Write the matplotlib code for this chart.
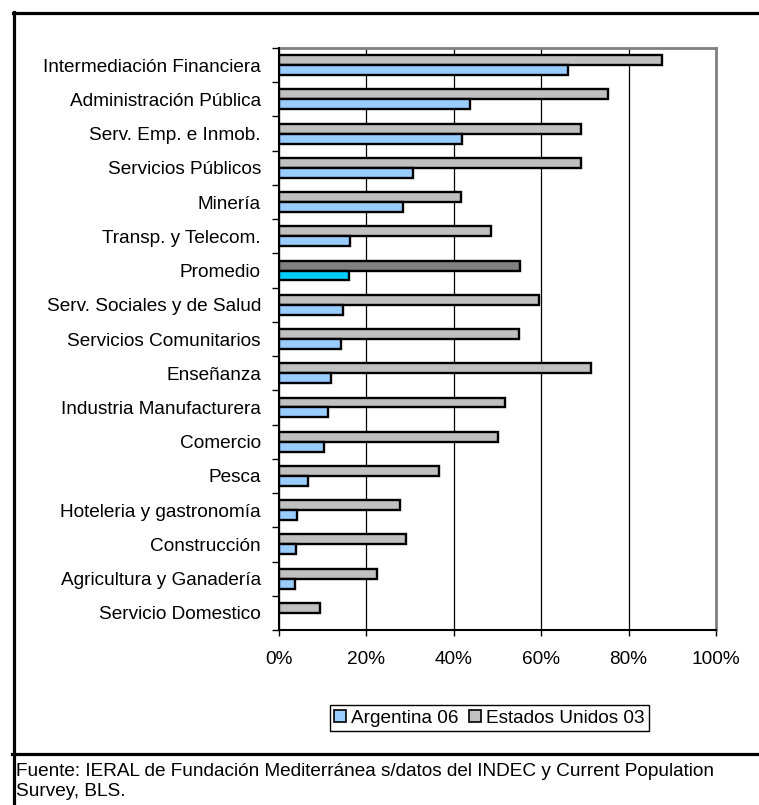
import matplotlib
matplotlib.use('Agg')
import matplotlib.pyplot as plt
from matplotlib.patches import Patch
from matplotlib.lines import Line2D
from matplotlib.ticker import FixedLocator, FuncFormatter

plt.rcParams['font.family'] = ['Liberation Sans', 'DejaVu Sans']

categorias = ["Intermediación Financiera", "Administración Pública", "Serv. Emp. e Inmob.",
              "Servicios Públicos", "Minería", "Transp. y Telecom.", "Promedio",
              "Serv. Sociales y de Salud", "Servicios Comunitarios", "Enseñanza",
              "Industria Manufacturera", "Comercio", "Pesca", "Hoteleria y gastronomía",
              "Construcción", "Agricultura y Ganadería", "Servicio Domestico"]
argentina_06 = [66.2, 43.7, 41.9, 30.6, 28.4, 16.3, 16.1, 14.7, 14.3, 11.9, 11.2, 10.4, 6.6, 4.1, 3.8, 3.6, 0.0]
eeuu_03 = [87.7, 75.2, 69.1, 69.0, 41.7, 48.6, 55.1, 59.4, 54.9, 71.4, 51.7, 50.0, 36.6, 27.6, 29.0, 22.4, 9.4]
destacado = "Promedio"

W, H = 759, 805
fs = 13.7
fig = plt.figure(figsize=(W / 100, H / 100), dpi=100)
ax = fig.add_axes([279 / W, 1 - 630 / H, 437 / W, 582 / H])

h = 0.29
for i, cat in enumerate(categorias):
    c_arg = '#00CCFF' if cat == destacado else '#99CCFF'
    c_us = '#808080' if cat == destacado else '#C0C0C0'
    ax.barh(i - h / 2, eeuu_03[i], height=h, color=c_us, edgecolor='black', linewidth=1.7, zorder=3)
    if argentina_06[i] > 0:
        ax.barh(i + h / 2, argentina_06[i], height=h, color=c_arg, edgecolor='black', linewidth=1.7, zorder=3)

ax.set_xlim(0, 100)
ax.set_ylim(len(categorias) - 0.5, -0.5)
ax.set_xticks([0, 20, 40, 60, 80, 100])
ax.xaxis.set_major_formatter(FuncFormatter(lambda v, p: '%d%%' % v))
ax.set_yticks(range(len(categorias)))
ax.set_yticklabels(categorias)
ax.yaxis.set_minor_locator(FixedLocator([i - 0.5 for i in range(len(categorias) + 1)]))
ax.tick_params(axis='y', which='major', length=0, pad=13, labelsize=fs)
ax.tick_params(axis='y', which='minor', length=5, width=1, color='black')
ax.tick_params(axis='x', length=4, width=1, pad=11, labelsize=fs)

ax.grid(axis='x', color='black', linewidth=0.9, zorder=0)
for s in ['left', 'bottom']:
    ax.spines[s].set_color('black')
    ax.spines[s].set_linewidth(1.5)
for s in ['top', 'right']:
    ax.spines[s].set_color('#808080')
    ax.spines[s].set_linewidth(2)
ax.spines['left'].set_zorder(4)

handles = [Patch(facecolor='#99CCFF', edgecolor='black', linewidth=1.2),
           Patch(facecolor='#C0C0C0', edgecolor='black', linewidth=1.2)]
leg = fig.legend(handles, ['Argentina 06', 'Estados Unidos 03'], loc='center right',
                 bbox_to_anchor=(649 / W, 1 - 718 / H), ncol=2, fontsize=fs,
                 frameon=True, fancybox=False, edgecolor='black', framealpha=1,
                 handlelength=0.6, handleheight=0.6, handletextpad=0.25,
                 columnspacing=0.6, borderpad=0.25, borderaxespad=0)
leg.get_frame().set_linewidth(1)

# marco del gráfico y separador de la fuente
lw = 2.3
fig.add_artist(Line2D([12.5 / W, 1], [1 - 13 / H, 1 - 13 / H], color='black', linewidth=lw))
fig.add_artist(Line2D([13.5 / W, 13.5 / W], [1 - 12 / H, 0], color='black', linewidth=lw))
fig.add_artist(Line2D([12 / W, 1], [1 - 754 / H, 1 - 754 / H], color='black', linewidth=lw))

fig.text(16 / W, 1 - 763 / H,
         'Fuente: IERAL de Fundación Mediterránea s/datos del INDEC y Current Population\nSurvey, BLS.',
         ha='left', va='top', fontsize=fs, linespacing=1.2)

fig.savefig('out.png', dpi=100)
